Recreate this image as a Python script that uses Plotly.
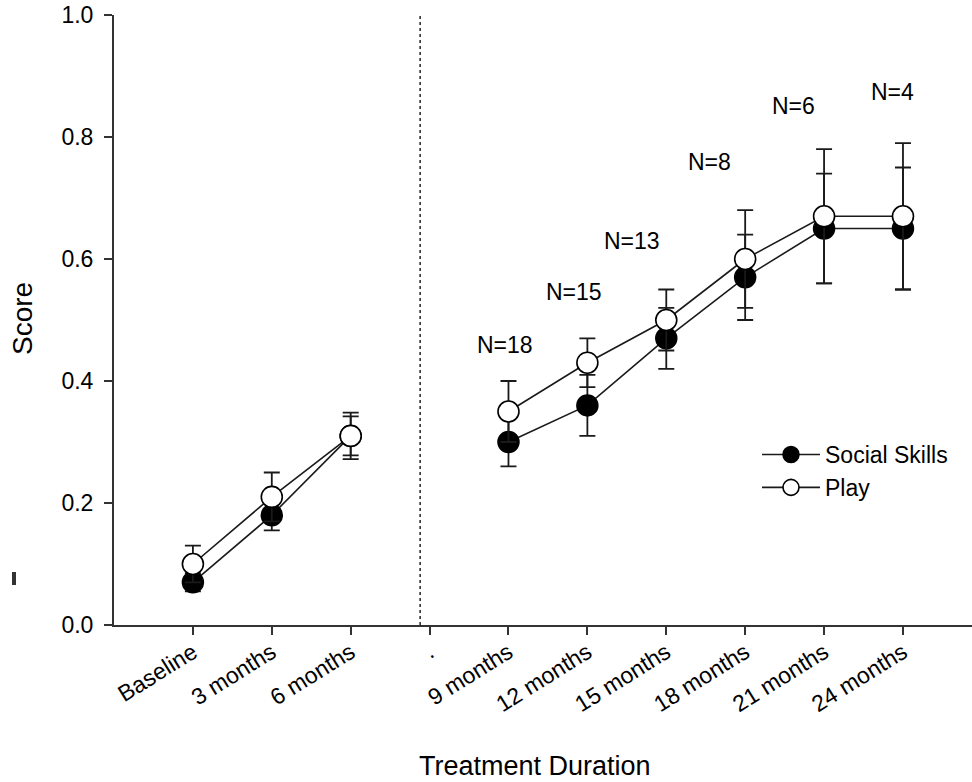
import plotly.graph_objects as go

categories = ["Baseline", "3 months", "6 months", ".", "9 months", "12 months",
              "15 months", "18 months", "21 months", "24 months"]
social = [0.07, 0.18, 0.31, None, 0.30, 0.36, 0.47, 0.57, 0.65, 0.65]
social_err = [0.015, 0.025, 0.032, None, 0.04, 0.05, 0.05, 0.07, 0.09, 0.10]
play = [0.10, 0.21, 0.31, None, 0.35, 0.43, 0.50, 0.60, 0.67, 0.67]
play_err = [0.03, 0.04, 0.038, None, 0.05, 0.04, 0.05, 0.08, 0.11, 0.12]
n_labels = ["N=18", "N=15", "N=13", "N=8", "N=6", "N=4"]
n_x = [3.96, 4.83, 5.57, 6.55, 7.61, 8.87]
n_y = [0.459, 0.546, 0.630, 0.759, 0.851, 0.874]
yticks = [0.0, 0.2, 0.4, 0.6, 0.8, 1.0]

FONT = "Liberation Sans, Arial, Helvetica, sans-serif"
FS = 23

fig = go.Figure()
fig.add_trace(go.Scatter(
    x=categories, y=social, name="Social Skills", mode="lines+markers",
    line=dict(color="#1a1a1a", width=1.6),
    marker=dict(size=21, color="black", line=dict(color="black", width=1.5)),
    error_y=dict(type="data", array=social_err, color="#1a1a1a", thickness=1.8, width=8),
    connectgaps=False,
))
fig.add_trace(go.Scatter(
    x=categories, y=play, name="Play", mode="lines+markers",
    line=dict(color="#1a1a1a", width=1.6),
    marker=dict(size=21, color="white", line=dict(color="black", width=1.6)),
    error_y=dict(type="data", array=play_err, color="#1a1a1a", thickness=1.8, width=8),
    connectgaps=False,
))

for t, xx, yy in zip(n_labels, n_x, n_y):
    fig.add_annotation(x=xx, y=yy, text=t, showarrow=False, xref="x", yref="y",
                       font=dict(size=FS, color="black", family=FONT))

# dotted separator
fig.add_shape(type="line", xref="x", yref="y", x0=2.88, x1=2.88, y0=0, y1=1,
              line=dict(color="black", width=1.3, dash="dot"))
# small stray mark at left
fig.add_shape(type="rect", xref="paper", yref="paper",
              x0=(12 - 114) / 858, x1=(16 - 114) / 858,
              y0=(625 - 585) / 610, y1=(625 - 572) / 610,
              fillcolor="#333333", line=dict(width=0))

fig.add_annotation(text="Score", xref="paper", yref="paper",
                   x=(22 - 114) / 858, y=(625 - 319) / 610, textangle=-90,
                   showarrow=False, xanchor="center", yanchor="middle",
                   font=dict(size=28, color="black", family=FONT))
fig.add_annotation(text="Treatment Duration", xref="paper", yref="paper",
                   x=(535 - 114) / 858, y=(625 - 766) / 610,
                   showarrow=False, xanchor="center", yanchor="middle",
                   font=dict(size=27, color="black", family=FONT))

fig.update_layout(
    width=972, height=782,
    margin=dict(l=114, r=0, t=15, b=157),
    paper_bgcolor="white", plot_bgcolor="white",
    font=dict(family=FONT, size=FS, color="black"),
    showlegend=True,
    legend=dict(x=(757 - 114) / 858, y=(625 - 433) / 610, xanchor="left", yanchor="top",
                bgcolor="rgba(0,0,0,0)", font=dict(size=FS, family=FONT, color="black"),
                itemwidth=58, tracegroupgap=0),
    xaxis=dict(type="category", categoryorder="array", categoryarray=categories,
               range=[-1, 9.875], showgrid=False, zeroline=False,
               showline=True, linecolor="#333333", linewidth=2,
               ticks="outside", ticklen=8, tickwidth=2, tickcolor="#333333",
               tickangle=-32, ticklabelstandoff=-5,
               tickfont=dict(size=FS, family=FONT, color="black")),
    yaxis=dict(range=[0, 1], tickvals=yticks, ticktext=[f"{v:.1f}" for v in yticks],
               showgrid=False, zeroline=False,
               showline=True, linecolor="#333333", linewidth=2,
               ticks="outside", ticklen=8, tickwidth=2, tickcolor="#333333",
               ticklabelstandoff=6,
               tickfont=dict(size=FS, family=FONT, color="black")),
)

fig.write_html("out.html")
